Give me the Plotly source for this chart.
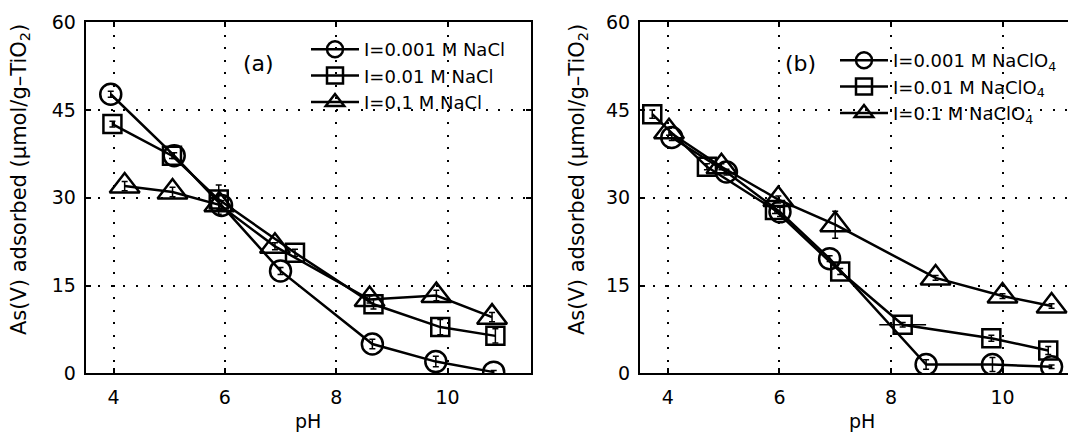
import plotly.graph_objects as go

# ---------------- data ----------------
# Panel (a): NaCl
ph_a_001 = [3.95, 5.09, 5.94, 7.00, 8.65, 9.79, 10.83]
as_a_001 = [47.7, 37.2, 28.7, 17.5, 5.0, 2.0, 0.2]
err_a_001 = [0.5, 0.5, 0.8, 0.6, 0.8, 0.9, 0.3]

ph_a_01 = [3.98, 5.05, 5.89, 7.26, 8.67, 9.87, 10.86]
as_a_01 = [42.6, 37.2, 29.7, 20.6, 11.8, 7.9, 6.4]
err_a_01 = [0.5, 0.5, 2.5, 0.6, 0.8, 1.3, 1.2]

ph_a_1 = [4.20, 5.06, 5.90, 6.90, 8.60, 9.80, 10.80]
as_a_1 = [32.0, 31.0, 28.8, 21.7, 12.6, 13.3, 9.6]
err_a_1 = [0.8, 0.8, 0.8, 0.6, 0.6, 0.9, 0.8]

# Panel (b): NaClO4
ph_b_001 = [4.07, 5.05, 6.01, 6.90, 8.63, 9.82, 10.88]
as_b_001 = [40.3, 34.4, 27.6, 19.6, 1.5, 1.5, 1.1]
err_b_001 = [0.5, 0.5, 0.8, 0.5, 0.8, 1.2, 0.3]

ph_b_01 = [3.72, 4.70, 5.92, 7.09, 8.21, 9.80, 10.82]
as_b_01 = [44.3, 35.3, 27.9, 17.4, 8.3, 6.0, 3.9]
err_b_01 = [0.7, 0.5, 0.6, 0.5, 0.4, 0.5, 0.7]
errx_b_01 = [0, 0, 0, 0, 0.42, 0, 0]

ph_b_1 = [4.02, 4.96, 5.98, 7.00, 8.80, 10.00, 10.88]
as_b_1 = [41.3, 35.3, 29.7, 25.4, 16.3, 13.2, 11.5]
err_b_1 = [0.6, 0.5, 0.6, 2.3, 0.4, 0.4, 0.4]

names_a = ["I=0.001 M NaCl", "I=0.01 M NaCl", "I=0.1 M NaCl"]
names_b = ["I=0.001 M NaClO<sub>4</sub>", "I=0.01 M NaClO<sub>4</sub>", "I=0.1 M NaClO<sub>4</sub>"]

x_ticks = [4, 6, 8, 10]
y_ticks = [0, 15, 30, 45, 60]

FONT = "DejaVu Sans"
FS = 19
W, H = 1076, 432
OFF = 8  # page offset compensation

symbols = ["circle-open", "square-open", "triangle-up-open"]
sizes = [21, 18, 26]

fig = go.Figure()

def add(ph, val, err, name, sym, size, xa, ya, legend, errx=None):
    kw = {}
    if errx is not None:
        kw["error_x"] = dict(type="data", array=errx, color="black", thickness=1.5, width=0)
    fig.add_trace(go.Scatter(
        x=ph, y=val, name=name, mode="lines+markers",
        line=dict(color="black", width=2.5),
        marker=dict(symbol=sym, size=size, color="black", line=dict(color="black", width=2.5)),
        error_y=dict(type="data", array=err, color="black", thickness=1.5, width=3),
        xaxis=xa, yaxis=ya, legend=legend, **kw))

add(ph_a_001, as_a_001, err_a_001, names_a[0], symbols[0], sizes[0], "x", "y", "legend")
add(ph_a_01, as_a_01, err_a_01, names_a[1], symbols[1], sizes[1], "x", "y", "legend")
add(ph_a_1, as_a_1, err_a_1, names_a[2], symbols[2], sizes[2], "x", "y", "legend")
add(ph_b_001, as_b_001, err_b_001, names_b[0], symbols[0], sizes[0], "x2", "y2", "legend2")
add(ph_b_01, as_b_01, err_b_01, names_b[1], symbols[1], sizes[1], "x2", "y2", "legend2", errx=errx_b_01)
add(ph_b_1, as_b_1, err_b_1, names_b[2], symbols[2], sizes[2], "x2", "y2", "legend2")

def px_x(p):
    return (p - OFF) / W

def px_y(p):
    return 1 - (p - OFF) / H

axis_common = dict(
    ticks="inside", ticklen=5, tickwidth=1.5, tickcolor="black",
    showline=True, linewidth=2, linecolor="black",
    showgrid=True, gridcolor="black", gridwidth=1.5, griddash="2px,10.5px",
    zeroline=False, automargin=False, tickfont=dict(family=FONT, size=FS, color="black"),
)

ydom = [px_y(373.3), px_y(22.3)]
fig.update_layout(
    width=W, height=H,
    margin=dict(l=0, r=0, t=0, b=0, autoexpand=False),
    paper_bgcolor="white", plot_bgcolor="white",
    font=dict(family=FONT, size=FS, color="black"),
    xaxis=dict(domain=[px_x(85.7), px_x(531)], range=[3.5, 11.5], tickvals=x_ticks,
               mirror="allticks", anchor="y", ticklabelstandoff=6, **axis_common),
    yaxis=dict(domain=ydom, range=[0, 60], tickvals=y_ticks, mirror="allticks",
               anchor="x", ticklabelstandoff=4, **axis_common),
    xaxis2=dict(domain=[px_x(640), 1.0], range=[3.5, 3.5 + (W + OFF - 640) / 55.77], tickvals=x_ticks,
                mirror="allticks", anchor="y2", ticklabelstandoff=6, **axis_common),
    yaxis2=dict(domain=ydom, range=[0, 60], tickvals=y_ticks, mirror=False,
                anchor="x2", ticklabelstandoff=4, **axis_common),
    legend=dict(x=px_x(306), y=px_y(31), xanchor="left", yanchor="top",
                bgcolor="rgba(0,0,0,0)", borderwidth=0, itemwidth=48,
                font=dict(family=FONT, size=18, color="black")),
    legend2=dict(x=px_x(835), y=px_y(42), xanchor="left", yanchor="top",
                 bgcolor="rgba(0,0,0,0)", borderwidth=0, itemwidth=48,
                 font=dict(family=FONT, size=18, color="black")),
    showlegend=True,
)

annos = [
    dict(text="(a)", x=6.6, y=53, xref="x", yref="y", showarrow=False,
         font=dict(family=FONT, size=22, color="black")),
    dict(text="(b)", x=6.37, y=53, xref="x2", yref="y2", showarrow=False,
         font=dict(family=FONT, size=22, color="black")),
    dict(text="pH", x=px_x(308), y=px_y(421), xref="paper", yref="paper",
         showarrow=False, xanchor="center", yanchor="middle", font=dict(family=FONT, size=FS, color="black")),
    dict(text="pH", x=px_x(862), y=px_y(421), xref="paper", yref="paper",
         showarrow=False, xanchor="center", yanchor="middle", font=dict(family=FONT, size=FS, color="black")),
    dict(text="As(V) adsorbed (\u00b5mol/g\u2013TiO<sub>2</sub>)", x=px_x(20), y=px_y(180),
         xref="paper", yref="paper", textangle=-90, showarrow=False,
         xanchor="center", yanchor="middle", font=dict(family=FONT, size=21, color="black")),
    dict(text="As(V) adsorbed (\u00b5mol/g\u2013TiO<sub>2</sub>)", x=px_x(578), y=px_y(180),
         xref="paper", yref="paper", textangle=-90, showarrow=False,
         xanchor="center", yanchor="middle", font=dict(family=FONT, size=21, color="black")),
]
fig.update_layout(annotations=annos)

fig.write_html("out.html")
